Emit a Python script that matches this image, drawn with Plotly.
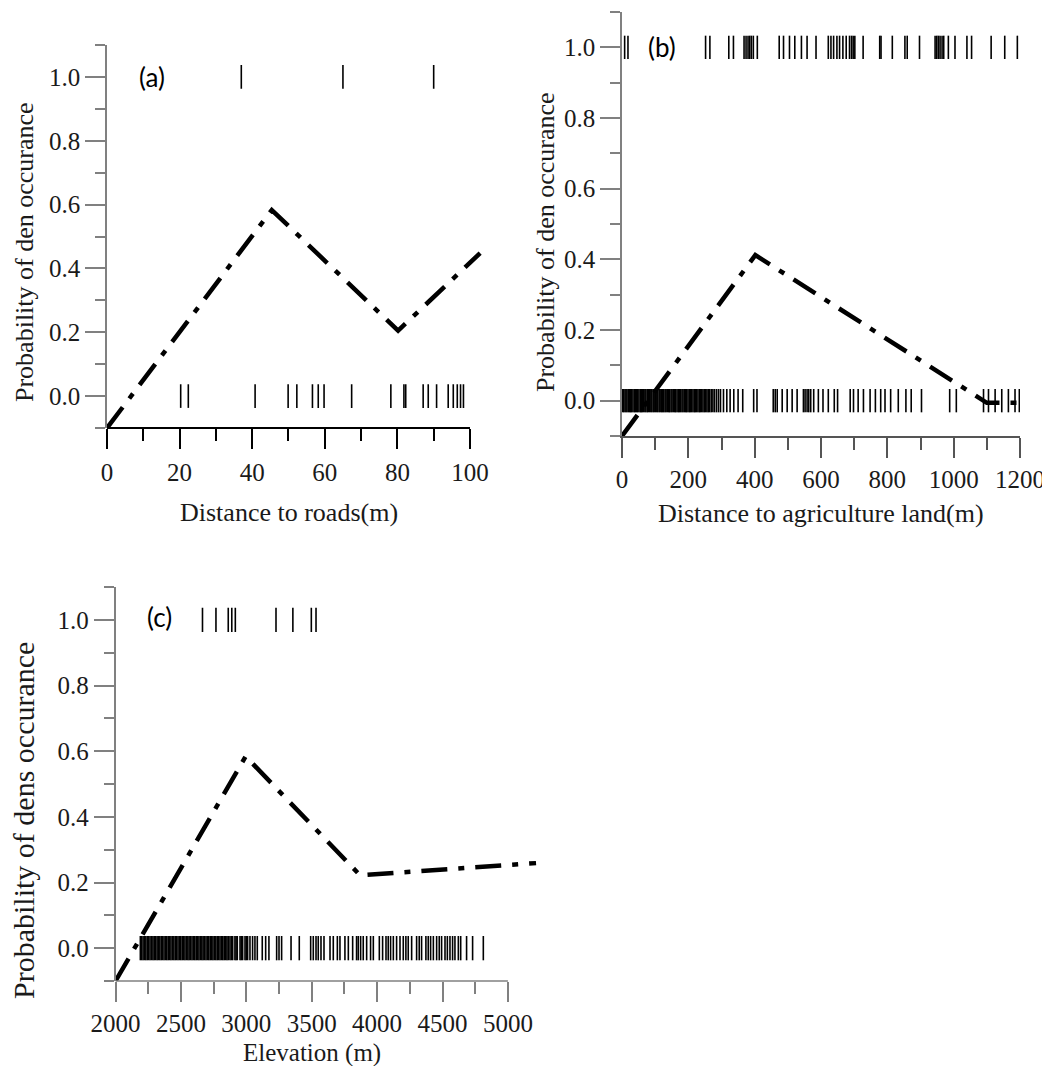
import plotly.graph_objects as go

# ---------------- data ----------------
# (a) distance to roads
a_curve_x = [0, 45.4, 80.2, 102.8]
a_curve_y = [-0.1, 0.583, 0.205, 0.448]
a_rug_present = [37, 65, 90]
a_rug_absent = [20.3, 22.4, 40.8, 49.9, 52.3, 56.6, 58.2, 59.8, 67.4, 78.2, 81.8, 82.3,
                87.1, 88.5, 90.8, 94.0, 95.4, 96.5, 97.4, 98.2]
a_xticks = [0, 20, 40, 60, 80, 100]

# (b) distance to agriculture land
b_curve_x = [0, 402, 1100, 1200]
b_curve_y = [-0.1, 0.412, -0.006, -0.006]
b_rug_present = [8, 18, 252, 265, 322, 336, 368, 374, 380, 385, 390, 396, 408, 474, 487, 505,
                 521, 541, 558, 585, 622, 630, 638, 648, 656, 666, 676, 686, 692, 697, 702,
                 727, 777, 781, 815, 853, 860, 897, 944, 949, 954, 959, 965, 970, 984, 1004,
                 1040, 1054, 1113, 1154, 1192]
b_rug_absent = [2, 5, 9, 12, 15, 19, 23, 26, 29, 33, 37, 40, 44, 47, 51, 55, 58, 61, 65, 69,
                72, 76, 79, 83, 87, 90, 94, 97, 101, 105, 108, 112, 115, 119, 122, 126, 130,
                133, 137, 141, 144, 148, 151, 155, 159, 162, 166, 170, 173, 177, 181, 184,
                188, 192, 195, 199, 203, 206, 210, 214, 218, 221, 225, 229, 233, 236, 240,
                244, 248, 252, 256, 260, 264, 269, 274, 279, 285, 291, 297,
                306, 316, 326, 337, 350, 364, 397, 407, 456, 462, 468, 483, 498, 513, 528,
                547, 552, 558, 563, 569, 578, 592, 606, 622, 640, 650, 688, 698, 712, 728,
                748, 764, 780, 793, 810, 833, 856, 872, 903, 988, 1008, 1090, 1105, 1125,
                1145, 1165, 1185, 1198]
b_xticks = [0, 200, 400, 600, 800, 1000, 1200]

# (c) elevation
c_curve_x = [2000, 2995, 3870, 5215]
c_curve_y = [-0.1, 0.584, 0.222, 0.259]
c_rug_present = [2665, 2768, 2862, 2889, 2916, 3227, 3356, 3497, 3533]
c_rug_absent = [2190, 2200, 2211, 2222, 2232, 2243, 2253, 2264, 2275, 2286, 2296, 2307, 2318,
                2328, 2339, 2350, 2360, 2371, 2382, 2392, 2403, 2414, 2424, 2435, 2446, 2457,
                2467, 2478, 2489, 2499, 2510, 2521, 2531, 2542, 2553, 2563, 2574, 2585, 2596,
                2606, 2617, 2628, 2638, 2649, 2660, 2670, 2681, 2692, 2703, 2713, 2724, 2735,
                2745, 2756, 2767, 2778, 2788, 2799, 2810, 2820, 2831, 2842, 2852, 2862,
                2875, 2886, 2896, 2913, 2922, 2931, 2952, 2962, 2972, 2990, 3000, 3010, 3028,
                3048, 3066, 3084, 3122, 3148, 3173, 3232, 3250, 3270, 3342, 3405, 3492, 3512,
                3533, 3550, 3571, 3594, 3640, 3665, 3696, 3716, 3754, 3780, 3813, 3843, 3856,
                3874, 3894, 3920, 3950, 3971, 4017, 4042, 4068, 4085, 4103, 4124, 4149, 4175,
                4200, 4220, 4238, 4264, 4302, 4322, 4340, 4373, 4391, 4409, 4430, 4455, 4475,
                4493, 4519, 4537, 4557, 4577, 4595, 4621, 4639, 4684, 4730, 4812]
c_xticks = [2000, 2500, 3000, 3500, 4000, 4500, 5000]

y_ticks = [0.0, 0.2, 0.4, 0.6, 0.8, 1.0]
y_ticktext = ["0.0", "0.2", "0.4", "0.6", "0.8", "1.0"]
y_minor = [-0.1, 0.1, 0.3, 0.5, 0.7, 0.9, 1.1]

# ---------------- layout helpers ----------------
OFF = 8                     # default page margin of the html body
W, H = 1050 - OFF, 1066 - OFF
SERIF = "Liberation Serif"
GRAY = "#808080"
DASH = "26px,11px,6px,11px"


def px_x(x):
    return (x - OFF) / W


def px_y(y):
    return 1 - (y - OFF) / H


def hdom(x0, x1):
    return [px_x(x0), px_x(x1)]


def vdom(top, bottom):
    return [px_y(bottom), px_y(top)]


def rug(vals, base, h):
    xs, ys = [], []
    for v in vals:
        xs += [v, v, None]
        ys += [base - h, base + h, None]
    return xs, ys


fig = go.Figure()

panels = [
    ("x", "y", a_curve_x, a_curve_y, a_rug_present, a_rug_absent, 0.037),
    ("x2", "y2", b_curve_x, b_curve_y, b_rug_present, b_rug_absent, 0.033),
    ("x3", "y3", c_curve_x, c_curve_y, c_rug_present, c_rug_absent, 0.037),
]
for xa, ya, cx, cy, r1, r0, h in panels:
    for vals, base in ((r1, 1.0), (r0, 0.0)):
        rx, ry = rug(vals, base, h)
        fig.add_trace(go.Scatter(x=rx, y=ry, mode="lines", xaxis=xa, yaxis=ya,
                                 line=dict(color="black", width=1.6),
                                 showlegend=False, hoverinfo="skip"))
    fig.add_trace(go.Scatter(x=cx, y=cy, mode="lines", xaxis=xa, yaxis=ya,
                             line=dict(color="black", width=4.5, dash=DASH),
                             showlegend=False))


def yaxis_cfg(domain, anchor):
    return dict(domain=domain, anchor=anchor, range=[-0.1, 1.1], automargin=False,
                tickmode="array", tickvals=y_ticks, ticktext=y_ticktext,
                ticks="outside", ticklen=20, tickwidth=1.5, tickcolor=GRAY,
                showline=True, linecolor=GRAY, linewidth=1.5,
                showgrid=False, zeroline=False,
                tickfont=dict(family=SERIF, size=25, color="#1a1a1a"),
                minor=dict(tickvals=y_minor, ticks="outside", ticklen=10,
                           tickcolor=GRAY, tickwidth=1.5))


def xaxis_cfg(domain, anchor, rng, tickvals, minor_vals, color, width, showline,
              standoff=6, fsize=25):
    return dict(domain=domain, anchor=anchor, range=rng, automargin=False,
                tickmode="array", tickvals=tickvals,
                ticktext=[str(v) for v in tickvals],
                ticks="outside", ticklen=20, tickwidth=width, tickcolor=color,
                ticklabelstandoff=standoff,
                showline=showline, linecolor=color, linewidth=width,
                showgrid=False, zeroline=False,
                tickfont=dict(family=SERIF, size=fsize, color="#1a1a1a"),
                minor=dict(tickvals=minor_vals, ticks="outside", ticklen=12,
                           tickcolor=color, tickwidth=width))


fig.update_layout(
    template="none",
    width=W, height=H, margin=dict(l=0, r=0, t=0, b=0, autoexpand=False),
    paper_bgcolor="white", plot_bgcolor="white", showlegend=False,
    xaxis=xaxis_cfg(hdom(107, 484.5), "y", [0, 104], a_xticks,
                    [10, 30, 50, 70, 90], "black", 2, False, standoff=2),
    yaxis=yaxis_cfg(vdom(45, 428), "x"),
    xaxis2=xaxis_cfg(hdom(622, 1020), "y2", [0, 1200], b_xticks,
                     [100, 300, 500, 700, 900, 1100], "#555555", 1.5, True, standoff=0),
    yaxis2=yaxis_cfg(vdom(12, 436), "x2"),
    xaxis3=xaxis_cfg(hdom(115.5, 538), "y3", [2000, 5230], c_xticks,
                     [2250, 2750, 3250, 3750, 4250, 4750], GRAY, 1.5, False,
                     standoff=0, fsize=25),
    yaxis3=yaxis_cfg(vdom(587, 981), "x3"),
)

# axis lines that stop at the last labelled tick
fig.add_shape(type="line", xref="x", yref="y domain", x0=0, x1=100, y0=0, y1=0,
              line=dict(color="black", width=2))
fig.add_shape(type="line", xref="x3", yref="y3 domain", x0=2000, x1=5000, y0=0, y1=0,
              line=dict(color=GRAY, width=1.5))

title_font = dict(family=SERIF, size=26, color="#1a1a1a")
ann = [
    # y titles
    dict(text="Probability of den occurance", x=px_x(25), y=px_y(252), textangle=-90,
         font=title_font),
    dict(text="Probability of den occurance", x=px_x(545), y=px_y(242), textangle=-90,
         font=title_font),
    dict(text="Probability of dens occurance", x=px_x(23), y=px_y(821), textangle=-90,
         font=dict(family=SERIF, size=30, color="#1a1a1a")),
    # x titles
    dict(text="Distance to roads(m)", x=px_x(289), y=px_y(512), font=title_font),
    dict(text="Distance to agriculture land(m)", x=px_x(821), y=px_y(513), font=title_font),
    dict(text="Elevation (m)", x=px_x(312), y=px_y(1053),
         font=dict(family=SERIF, size=25, color="#1a1a1a")),
]
for a in ann:
    fig.add_annotation(xref="paper", yref="paper", showarrow=False,
                       xanchor="center", yanchor="middle", **a)

lab_font = dict(family="Lato", size=26, color="black")
fig.add_annotation(text="(a)", xref="x", yref="y", x=12.4, y=1.0, showarrow=False, font=lab_font)
fig.add_annotation(text="(b)", xref="x2", yref="y2", x=120, y=1.0, showarrow=False, font=lab_font)
fig.add_annotation(text="(c)", xref="x3", yref="y3", x=2340, y=1.01, showarrow=False, font=lab_font)

fig.write_html("out.html")
